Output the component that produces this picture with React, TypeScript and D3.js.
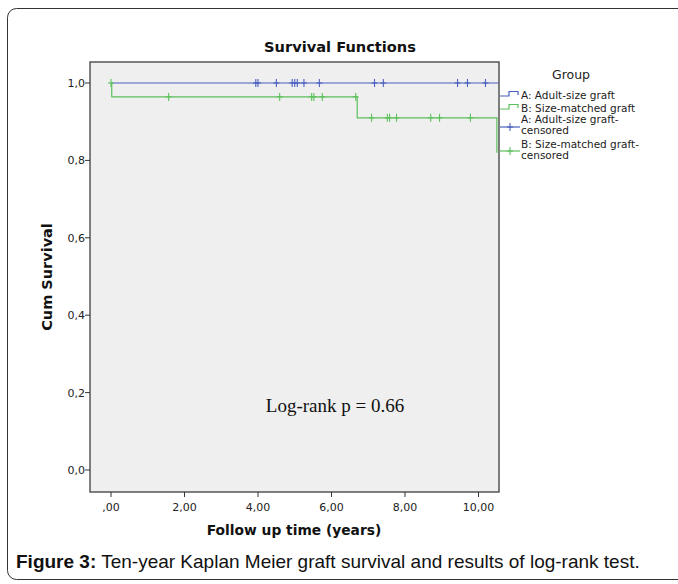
import React from 'react';
import * as d3 from 'd3';

// Group A (adult-size graft): no events, only censored cases
const groupACensored = [3.94, 4.0, 4.5, 4.93, 5.0, 5.07, 5.25, 5.67, 7.17, 7.41, 9.43, 9.7, 10.19];
const groupAEnd = 10.55;

// Group B (size-matched graft): step curve
const groupBTimes = [0, 0.02, 6.7, 10.5];
const groupBSurvival = [1.0, 0.964, 0.91, 0.82];
const groupBCensoredTimes = [0, 1.57, 4.59, 5.46, 5.52, 5.75, 6.66, 7.09, 7.52, 7.58, 7.77, 8.7, 8.94, 9.78];
const groupBCensoredSurv = [1.0, 0.964, 0.964, 0.964, 0.964, 0.964, 0.964, 0.91, 0.91, 0.91, 0.91, 0.91, 0.91, 0.91];

const xTicks = [0, 2, 4, 6, 8, 10];
const xTickLabels = [',00', '2,00', '4,00', '6,00', '8,00', '10,00'];
const yTicks = [0, 0.2, 0.4, 0.6, 0.8, 1.0];
const yTickLabels = ['0,0', '0,2', '0,4', '0,6', '0,8', '1,0'];

const legendLabels = [
  ['A: Adult-size graft'],
  ['B: Size-matched graft'],
  ['A: Adult-size graft-', 'censored'],
  ['B: Size-matched graft-', 'censored'],
];

const BLUE = '#4a5fc0';
const GREEN = '#5cc05c';
const FONT = '"DejaVu Sans", sans-serif';

const App = () => {
  const plot = { left: 90, right: 499, top: 62, bottom: 492 };

  const x = d3.scaleLinear().domain([0, 10]).range([111, 478.5]);
  const y = d3.scaleLinear().domain([0, 1]).range([470, 83]);

  const stepLine = d3.line<[number, number]>()
    .x(d => x(d[0]))
    .y(d => y(d[1]))
    .curve(d3.curveStepAfter);

  const aPath = stepLine([[0, 1], [groupAEnd, 1]]);
  const bPoints: [number, number][] = groupBTimes.map((t, i) => [t, groupBSurvival[i]]);
  const bPath = stepLine(bPoints);

  const cross = (cx: number, cy: number, color: string, key: string) => (
    <g key={key} stroke={color} strokeWidth={1.1}>
      <line x1={cx} x2={cx} y1={cy - 4} y2={cy + 4} />
      <line x1={cx - 3} x2={cx + 3} y1={cy} y2={cy} />
    </g>
  );

  const legX = 500;
  const legTextX = 521;

  return (
    <svg width={678} height={584} style={{ position: 'absolute', left: 0, top: 0, background: '#fff' }}>
      <rect x={7.5} y={8.5} width={690} height={571} rx={9} fill="#fff" stroke="#333" strokeWidth={1} />

      <text x={340} y={52} textAnchor="middle" fontFamily={FONT} fontSize={14.6} fontWeight="bold" fill="#111">
        Survival Functions
      </text>

      <rect x={plot.left} y={plot.top} width={plot.right - plot.left} height={plot.bottom - plot.top}
        fill="#efefef" stroke="#555" strokeWidth={1.5} />

      {/* y axis */}
      {yTicks.map((v, i) => (
        <g key={'y' + i}>
          <line x1={plot.left - 5} x2={plot.left} y1={y(v)} y2={y(v)} stroke="#333" strokeWidth={1} />
          <text x={plot.left - 5} y={y(v) + 4} textAnchor="end" fontFamily={FONT} fontSize={11} fill="#222">
            {yTickLabels[i]}
          </text>
        </g>
      ))}
      <text transform={`translate(52,${277}) rotate(-90)`} textAnchor="middle" fontFamily={FONT} fontSize={14.5}
        fontWeight="bold" fill="#111">Cum Survival</text>

      {/* x axis */}
      {xTicks.map((v, i) => (
        <g key={'x' + i}>
          <line x1={x(v)} x2={x(v)} y1={plot.bottom} y2={plot.bottom + 5} stroke="#333" strokeWidth={1} />
          <text x={x(v)} y={plot.bottom + 19} textAnchor="middle" fontFamily={FONT} fontSize={11} fill="#222">
            {xTickLabels[i]}
          </text>
        </g>
      ))}
      <text x={294} y={535} textAnchor="middle" fontFamily={FONT} fontSize={13.8} fontWeight="bold" fill="#111">
        Follow up time (years)
      </text>

      {/* curves */}
      <path d={aPath || ''} fill="none" stroke={BLUE} strokeWidth={1.2} />
      <path d={bPath || ''} fill="none" stroke={GREEN} strokeWidth={1.2} />
      {groupACensored.map((t, i) => cross(x(t), y(1), BLUE, 'ca' + i))}
      {groupBCensoredTimes.map((t, i) => cross(x(t), y(groupBCensoredSurv[i]), GREEN, 'cb' + i))}

      <text x={335} y={412} textAnchor="middle" fontFamily='"Liberation Serif", serif' fontSize={19} fill="#111">
        Log-rank p = 0.66
      </text>

      {/* legend */}
      <text x={571} y={79} textAnchor="middle" fontFamily={FONT} fontSize={12.5} fill="#222">Group</text>
      <path d={`M${legX},96 H${legX + 9} V91.5 H${legX + 18} V95`} fill="none" stroke={BLUE} strokeWidth={1.2} />
      <path d={`M${legX},109 H${legX + 9} V104.5 H${legX + 18} V108`} fill="none" stroke={GREEN} strokeWidth={1.2} />
      <line x1={legX} x2={legX + 20} y1={127} y2={127} stroke={BLUE} strokeWidth={1.2} />
      {cross(legX + 10, 127, BLUE, 'la')}
      <line x1={legX} x2={legX + 20} y1={151} y2={151} stroke={GREEN} strokeWidth={1.2} />
      {cross(legX + 10, 151, GREEN, 'lb')}
      {legendLabels.map((lines, i) => {
        const base = [99, 112, 123, 148][i];
        return (
          <text key={'lg' + i} x={legTextX} y={base} fontFamily={FONT} fontSize={10.5} fill="#222">
            {lines.map((l, j) => (
              <tspan key={j} x={legTextX} dy={j === 0 ? 0 : 11}>{l}</tspan>
            ))}
          </text>
        );
      })}

      <text x={16} y={568} fontFamily='"Liberation Sans", Arial, sans-serif' fontSize={19} fill="#111">
        <tspan fontWeight="bold">Figure 3:</tspan> Ten-year Kaplan Meier graft survival and results of log-rank test.
      </text>
    </svg>
  );
};

export default App;
